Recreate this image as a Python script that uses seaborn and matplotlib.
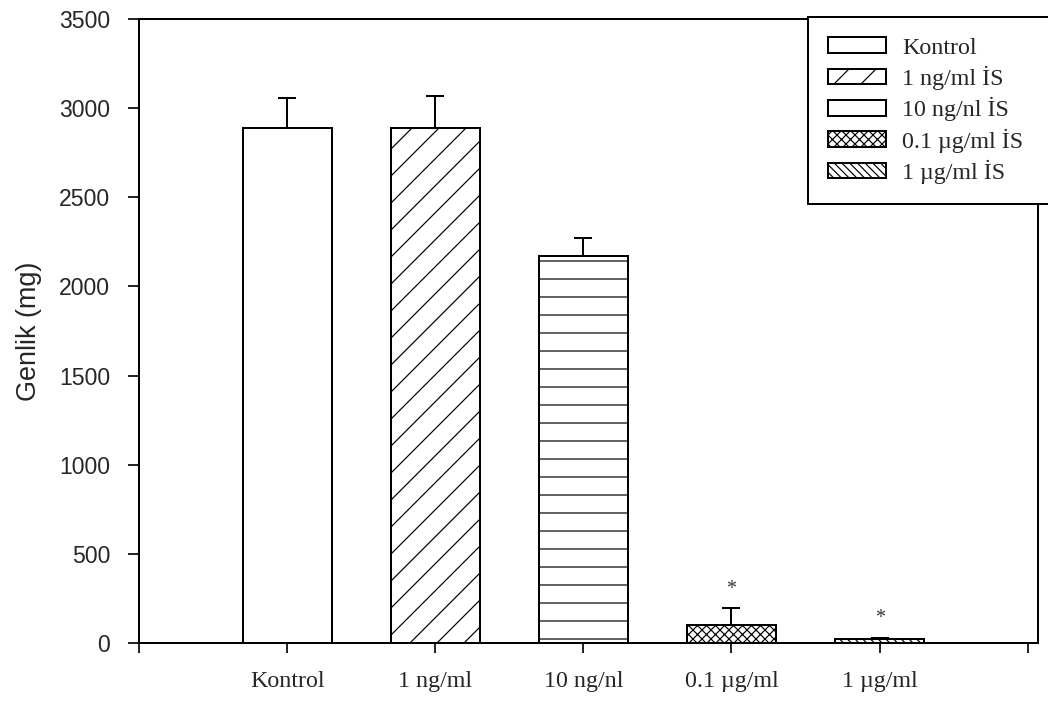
import numpy as np
import pandas as pd
import matplotlib
matplotlib.use("Agg")
import matplotlib.pyplot as plt
import matplotlib.patches as mpatches
from matplotlib.font_manager import FontProperties
import seaborn as sns

# Groups, mean amplitude and error values
groups = ["Kontrol", "1 ng/ml", "10 ng/nl", "0.1 µg/ml", "1 µg/ml"]
legend_labels = ["Kontrol", "1 ng/ml İS", "10 ng/nl İS", "0.1 µg/ml İS", "1 µg/ml İS"]
means = [2890, 2890, 2170, 100, 20]
errors = [165, 180, 100, 95, 10]
significant = [False, False, False, True, True]
yticks = [0, 500, 1000, 1500, 2000, 2500, 3000, 3500]

# Fill patterns per group
hatches = ["", "////", "---", "x" * 12, "\\" * 14]

DPI = 324


def px(v):
    """Convert a length in output pixels to points."""
    return v * 72 / DPI


sns.set_style("ticks")
plt.rcParams.update({
    "font.family": ["Liberation Sans", "DejaVu Sans"],
    "hatch.linewidth": px(1.2),
    "hatch.color": "black",
    "axes.linewidth": px(2),
    "xtick.major.width": px(2),
    "ytick.major.width": px(2),
    "xtick.major.size": px(10),
    "ytick.major.size": px(11),
    "xtick.direction": "out",
    "ytick.direction": "out",
    "axes.edgecolor": "black",
})

W, H = 1048, 708
fig = plt.figure(figsize=(W / DPI, H / DPI), dpi=DPI)
ax = fig.add_axes([139 / W, 1 - 643 / H, (1038 - 139) / W, (643 - 19) / H])

df = pd.DataFrame({"grup": groups, "genlik": means})
sns.barplot(data=df, x="grup", y="genlik", order=groups, color="white",
            saturation=1, edgecolor="black", linewidth=px(2), width=0.6,
            errorbar=None, ax=ax)

for patch, h in zip(ax.patches, hatches):
    patch.set_hatch(h)
    patch.set_facecolor("white")
    patch.set_edgecolor("black")

xpos = np.arange(len(groups))
ax.errorbar(xpos, means, yerr=[np.zeros(len(means)), errors], fmt="none",
            ecolor="black", elinewidth=px(2), capsize=px(9), capthick=px(2),
            zorder=3)

serif = FontProperties(family="Liberation Serif", size=px(24))
for i, sig in enumerate(significant):
    if sig:
        ax.annotate("*", (xpos[i], means[i] + errors[i]), xytext=(0, px(19)),
                    textcoords="offset points", ha="center", va="center",
                    fontproperties=FontProperties(family="Liberation Serif",
                                                  size=px(20)),
                    color="#333333")

ax.set_xlim(-1, 5.07)
ax.set_ylim(0, 3500)
ax.set_xticks(np.arange(-1, len(groups) + 1))
ax.set_xticklabels([""] + groups + [""])
for lab in ax.get_xticklabels():
    lab.set_fontproperties(serif)
ax.tick_params(axis="x", pad=px(18), top=False)
ax.set_yticks(yticks)
ax.set_yticklabels([str(v) for v in yticks], fontsize=px(23))
ax.tick_params(axis="y", pad=px(18), right=False)
ax.set_xlabel("")
ax.set_ylabel("Genlik (mg)", fontsize=px(27), labelpad=px(17))
for s in ax.spines.values():
    s.set_visible(True)
    s.set_linewidth(px(2))

handles = [mpatches.Patch(facecolor="white", edgecolor="black", hatch=h,
                          linewidth=px(2)) for h in hatches]
leg = fig.legend(handles, legend_labels, loc="upper left",
                 bbox_to_anchor=(808 / W, 1 - 17 / H, (1070 - 808) / W, 0),
                 bbox_transform=fig.transFigure, mode="expand",
                 frameon=True, fancybox=False,
                 edgecolor="black", framealpha=1, prop=serif,
                 borderpad=0.85, borderaxespad=0, handlelength=58 / 24,
                 handleheight=15 / 24, handletextpad=16 / 24,
                 labelspacing=0.3)
leg.get_frame().set_linewidth(px(2))
leg.set_zorder(10)

fig.savefig("out.png", dpi=DPI, facecolor="white")
